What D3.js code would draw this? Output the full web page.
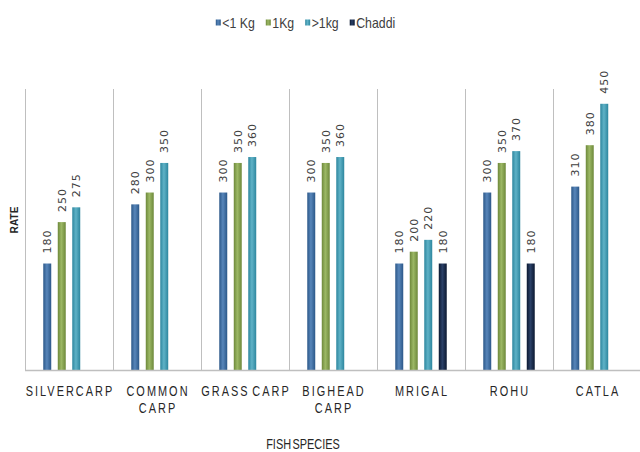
<!DOCTYPE html>
<html>
<head>
<meta charset="utf-8">
<script src="https://cdn.jsdelivr.net/npm/d3@7/dist/d3.min.js"></script>
<style>
  html, body { margin: 0; padding: 0; background: #fff; }
  svg { display: block; }
  .narrow { font-family: "Liberation Sans", Arial, sans-serif; }
</style>
</head>
<body>
<svg id="chart" width="640" height="452"></svg>
<script>
// ---- data ----
const categories = ["SILVERCARP", "COMMON CARP", "GRASS CARP", "BIGHEAD CARP", "MRIGAL", "ROHU", "CATLA"];
const categoryLines = [["SILVERCARP"], ["COMMON", "CARP"], ["GRASS CARP"], ["BIGHEAD", "CARP"], ["MRIGAL"], ["ROHU"], ["CATLA"]];
const seriesNames = ["<1 Kg", "1Kg", ">1kg", "Chaddi"];
const lessThan1Kg = [180, 280, 300, 300, 180, 300, 310];
const oneKg       = [250, 300, 350, 350, 200, 350, 380];
const moreThan1kg = [275, 350, 360, 360, 220, 370, 450];
const chaddi      = [null, null, null, null, 180, 180, null];
const seriesValues = [lessThan1Kg, oneKg, moreThan1kg, chaddi];
const yTitle = "RATE";
const xTitle = "FISH SPECIES";

// ---- styling ----
const colors = [
  {edge: "#2b5788", mid: "#5886ba"},
  {edge: "#6d883a", mid: "#9cb865"},
  {edge: "#2d869e", mid: "#5fb2c7"},
  {edge: "#0b1830", mid: "#2b4168"}
];
const SQUEEZE = 0.78; // horizontal compression to mimic a condensed face

const svg = d3.select("#chart");
const defs = svg.append("defs");
colors.forEach((c, i) => {
  const g = defs.append("linearGradient").attr("id", "grad" + i)
    .attr("x1", "0%").attr("x2", "100%").attr("y1", "0%").attr("y2", "0%");
  g.append("stop").attr("offset", "0%").attr("stop-color", c.edge);
  g.append("stop").attr("offset", "45%").attr("stop-color", c.mid);
  g.append("stop").attr("offset", "100%").attr("stop-color", c.edge);
});

const plot = {left: 25, right: 641, top: 89, bottom: 370};

const x0 = d3.scaleBand().domain(categories).range([plot.left, plot.right]).padding(0);
const x1 = d3.scaleBand().domain(seriesNames).range([0, x0.bandwidth()])
  .paddingInner(0.45).paddingOuter(1.26);
const y = d3.scaleLinear().domain([0, 475]).range([plot.bottom, plot.top]);

// vertical separators
const seps = categories.map(c => x0(c)).concat([x0(categories[categories.length - 1]) + x0.bandwidth()]);
svg.append("g").selectAll("line").data(seps).join("line")
  .attr("x1", d => Math.round(d) + 0.5).attr("x2", d => Math.round(d) + 0.5)
  .attr("y1", plot.top).attr("y2", plot.bottom)
  .attr("stroke", "#bfbfbf").attr("stroke-width", 1);

// bars
const barData = [];
categories.forEach((c, ci) => {
  seriesNames.forEach((s, si) => {
    const v = seriesValues[si][ci];
    if (v != null) barData.push({c, s, si, v});
  });
});

const gBars = svg.append("g");
gBars.selectAll("rect").data(barData).join("rect")
  .attr("x", d => x0(d.c) + x1(d.s))
  .attr("width", x1.bandwidth())
  .attr("y", d => y(d.v))
  .attr("height", d => y(0) - y(d.v))
  .attr("fill", d => `url(#grad${d.si})`);

// value labels
gBars.selectAll("text").data(barData).join("text")
  .attr("transform", d => `translate(${x0(d.c) + x1(d.s) + x1.bandwidth() / 2 + 4},${y(d.v) - 10}) rotate(-90)`)
  .attr("text-anchor", "start")
  .attr("font-family", "DejaVu Sans, Verdana, sans-serif")
  .attr("font-size", 11)
  .attr("letter-spacing", "1px")
  .attr("fill", "#404040")
  .text(d => d.v);

// x axis line
svg.append("line")
  .attr("x1", plot.left).attr("x2", plot.right)
  .attr("y1", plot.bottom + 0.5).attr("y2", plot.bottom + 0.5)
  .attr("stroke", "#bfbfbf").attr("stroke-width", 1.5);

// category labels
const catG = svg.append("g").attr("class", "narrow");
categories.forEach((c, ci) => {
  const t = catG.append("text")
    .attr("transform", `translate(${x0(c) + x0.bandwidth() / 2 + 1},396) scale(${SQUEEZE},1)`)
    .attr("text-anchor", "middle")
    .attr("font-size", 14)
    .attr("letter-spacing", "2.6px")
    .attr("fill", "#262626");
  categoryLines[ci].forEach((line, li) => {
    t.append("tspan")
      .attr("x", 0)
      .attr("y", li * 17.5)
      .attr("word-spacing", "-3px")
      .text(line);
  });
});

// axis titles
svg.append("text").attr("class", "narrow")
  .attr("transform", `translate(17.5,220) rotate(-90) scale(0.88,1)`)
  .attr("text-anchor", "middle")
  .attr("font-size", 11.5).attr("font-weight", "bold")
  .attr("fill", "#262626")
  .text(yTitle);

svg.append("text").attr("class", "narrow")
  .attr("transform", `translate(303,448.5) scale(${SQUEEZE},1)`)
  .attr("text-anchor", "middle")
  .attr("font-size", 14)
  .attr("word-spacing", "-2px")
  .attr("fill", "#262626")
  .text(xTitle);

// legend
const LEG_SQUEEZE = 0.88;
const leg = svg.append("g").attr("class", "narrow");
const items = leg.selectAll("g").data(seriesNames).join("g");
items.append("rect").attr("width", 5).attr("height", 6).attr("y", 19.5)
  .attr("fill", (d, i) => `url(#grad${i})`);
items.append("text")
  .attr("transform", `translate(6.5,27.5) scale(${LEG_SQUEEZE},1)`)
  .attr("font-size", 14).attr("fill", "#404040")
  .text(d => d);
const widths = [];
items.each(function() {
  const w = d3.select(this).select("text").node().getComputedTextLength() * LEG_SQUEEZE + 6.5;
  widths.push(w);
});
const gap = 11;
const total = d3.sum(widths) + gap * (widths.length - 1);
let cx = 305.5 - total / 2;
items.attr("transform", (d, i) => {
  const tx = cx; cx += widths[i] + gap; return `translate(${tx},0)`;
});
</script>
</body>
</html>
